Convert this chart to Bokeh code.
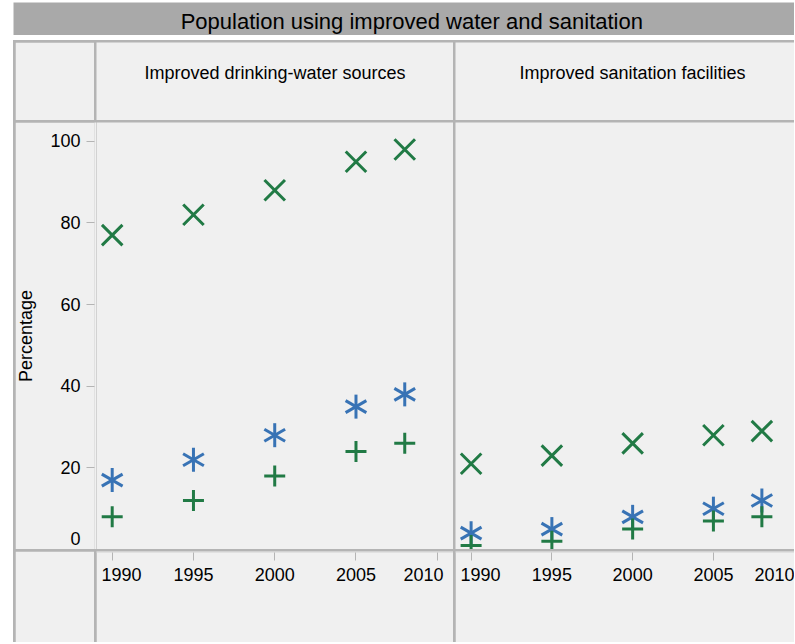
import math
from bokeh.plotting import figure
from bokeh.models import Range1d, Spacer, Row, Column, FixedTicker
from bokeh.core.properties import value
from bokeh.embed import file_html
from bokeh.resources import INLINE

# ---------------- data ----------------
chart_title = "Population using improved water and sanitation"
panel_titles = ["Improved drinking-water sources", "Improved sanitation facilities"]
y_title = "Percentage"
years = [1990, 1995, 2000, 2005, 2008]
water_x = [77, 82, 88, 95, 98]
water_star = [17, 22, 28, 35, 38]
water_plus = [8, 12, 18, 24, 26]
sanit_x = [21, 23, 26, 28, 29]
sanit_star = [4, 5, 8, 10, 12]
sanit_plus = [1, 2, 5, 7, 8]
x_ticks = [1990, 1995, 2000, 2005, 2010]
y_ticks = [0, 20, 40, 60, 80, 100]

# ---------------- style ----------------
FONT = "Liberation Sans"
BG = "#f0f0f0"
GRIDLINE = "#b4b4b4"
TITLE_BG = "#a9a9a9"
GREEN = "#217a45"
BLUE = "#3873b5"
NB = "\u00a0"


def cell(w, h, fill=BG, **kw):
    return figure(width=w, height=h, output_backend="svg", toolbar_location=None,
                  x_axis_type=None, y_axis_type=None, min_border=0,
                  background_fill_color=fill, border_fill_color=fill,
                  outline_line_color=None, **kw)


def add_text(p, x, y, text, size):
    p.text(x=[x], y=[y], text=[text], text_font=value(FONT), text_font_size=size,
           text_color="#000000", text_align="center", text_baseline="middle")


def add_series(p, xs, ys_x, ys_star, ys_plus):
    p.scatter(xs, ys_x, marker="x", size=29, line_color=GREEN, line_width=3)
    # six-armed asterisk built from three rotated strokes
    for ang in (math.pi / 2, math.pi / 6, -math.pi / 6):
        p.scatter(xs, ys_star, marker="dash", size=24, angle=ang,
                  line_color=BLUE, line_width=3)
    p.scatter(xs, ys_plus, marker="cross", size=21, line_color=GREEN, line_width=3)


# title bar
tfig = cell(781, 33, fill=TITLE_BG, x_range=Range1d(0, 1), y_range=Range1d(0, 1))
add_text(tfig, 0.51, 0.424, chart_title, "22px")

# header cells
hdrA = cell(79, 78)
hdrB = cell(357, 78, x_range=Range1d(0, 1), y_range=Range1d(0, 1))
add_text(hdrB, 0.5, 0.615, panel_titles[0], "18px")
hdrC = cell(339, 78, x_range=Range1d(0, 1), y_range=Range1d(0, 1))
add_text(hdrC, 0.522, 0.615, panel_titles[1], "18px")

# shared ranges
yr = Range1d(0, 104.6)
xr1 = Range1d(1989.034, 2011.0)
xr2 = Range1d(1989.034, 2010.02)

# data panels
pan1 = cell(357, 427, x_range=xr1, y_range=yr)
add_series(pan1, years, water_x, water_star, water_plus)
pan2 = cell(339, 427, x_range=xr2, y_range=yr)
add_series(pan2, years, sanit_x, sanit_star, sanit_plus)

# y axis cell
yax = figure(width=79, height=427, x_range=Range1d(0, 1), y_range=yr, x_axis_type=None,
             min_border=0, min_border_left=78, background_fill_color=BG,
             border_fill_color=BG, outline_line_color=None, toolbar_location=None,
             output_backend="svg")
yax.ygrid.visible = False
ya = yax.yaxis[0]
ya.ticker = FixedTicker(ticks=y_ticks)
ya.major_label_overrides = {0: "0\n" + NB}
ya.major_label_text_line_height = 0.02
ya.axis_label = y_title
ya.axis_label_text_font = FONT
ya.axis_label_text_font_size = "18px"
ya.axis_label_text_font_style = "normal"
ya.axis_label_text_color = "#000000"
ya.axis_label_standoff = 11
ya.major_label_text_font = FONT
ya.major_label_text_font_size = "18px"
ya.major_label_text_color = "#000000"
ya.major_label_standoff = 6
ya.axis_line_color = None
ya.major_tick_in = 0
ya.major_tick_out = 8
ya.major_tick_line_color = GRIDLINE
ya.minor_tick_line_color = None


def make_xaxis(w, xr, overrides):
    p = figure(width=w, height=91, x_range=xr, y_range=Range1d(0, 1), y_axis_type=None,
               min_border=0, min_border_bottom=90, background_fill_color=BG,
               border_fill_color=BG, outline_line_color=None, toolbar_location=None,
               output_backend="svg")
    p.xgrid.visible = False
    a = p.xaxis[0]
    a.ticker = FixedTicker(ticks=x_ticks)
    a.major_label_overrides = overrides
    a.major_label_text_font = FONT
    a.major_label_text_font_size = "18px"
    a.major_label_text_color = "#000000"
    a.major_label_standoff = 4
    a.axis_line_color = None
    a.major_tick_in = 0
    a.major_tick_out = 8
    a.major_tick_line_color = GRIDLINE
    a.minor_tick_line_color = None
    return p


xax1 = make_xaxis(357, xr1, {1990: NB + "1990", 2010: "2010" + NB * 2})
xax2 = make_xaxis(339, xr2, {1990: NB + "1990"})
cellAX = cell(79, 91)

grid = Row(children=[
    Spacer(width=0, height=602),
    Column(children=[Spacer(width=79, height=0), hdrA, yax, cellAX], spacing=2),
    Column(children=[Spacer(width=357, height=0), hdrB, pan1, xax1], spacing=2),
    Column(children=[Spacer(width=339, height=0), hdrC, pan2, xax2], spacing=2),
], spacing=2, styles={"background-color": GRIDLINE})

root = Column(children=[
    Spacer(width=794, height=2),
    Row(children=[Spacer(width=13, height=33), tfig]),
    Spacer(width=794, height=5),
    Row(children=[Spacer(width=13, height=602), grid]),
])

open("out.html", "w").write(file_html(root, INLINE))
